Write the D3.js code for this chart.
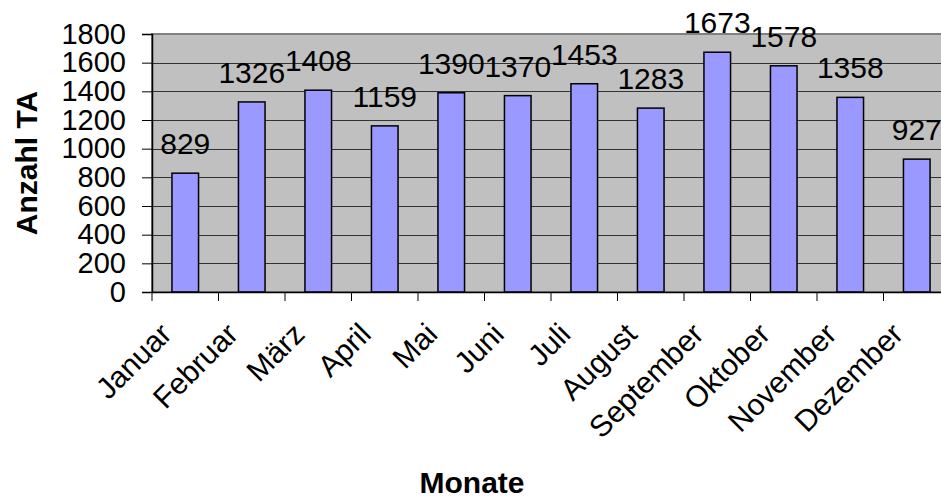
<!DOCTYPE html>
<html>
<head>
<meta charset="utf-8">
<script src="https://cdn.jsdelivr.net/npm/d3@7"></script>
<style>
  body { margin: 0; background: #fff; }
  text { font-family: "Liberation Sans", Arial, sans-serif; fill: #000; }
</style>
</head>
<body>
<div id="root"></div>
<script>
var months = ["Januar", "Februar", "März", "April", "Mai", "Juni", "Juli",
    "August", "September", "Oktober", "November", "Dezember"];
var counts = [829, 1326, 1408, 1159, 1390, 1370, 1453, 1283, 1673, 1578, 1358, 927];
var yTicks = [0, 200, 400, 600, 800, 1000, 1200, 1400, 1600, 1800];

var svg = d3.select("#root")
    .append("svg")
    .attr("width", 941)
    .attr("height", 503);

var plotLeft = 152, plotRight = 950, plotTop = 34, plotBottom = 292;

var x = d3.scaleBand()
    .domain(months)
    .range([plotLeft, plotRight])
    .paddingInner(0.6)
    .paddingOuter(0.3);

var y = d3.scaleLinear()
    .domain([0, 1800])
    .range([plotBottom, plotTop]);

function draw() {
    // plot area
    svg.append("rect")
        .attr("x", plotLeft)
        .attr("y", plotTop)
        .attr("width", plotRight - plotLeft)
        .attr("height", plotBottom - plotTop)
        .attr("fill", "#c0c0c0")
        .attr("stroke", "#808080")
        .attr("stroke-width", 2);

    // grid
    svg.selectAll("line.grid")
        .data(yTicks.slice(1, -1))
        .enter()
        .append("line")
        .attr("class", "grid")
        .attr("x1", plotLeft)
        .attr("x2", plotRight)
        .attr("y1", function (d) { return Math.round(y(d)) + 0.5; })
        .attr("y2", function (d) { return Math.round(y(d)) + 0.5; })
        .attr("stroke", "#333")
        .attr("stroke-width", 1);

    // bars
    svg.selectAll("rect.bar")
        .data(counts)
        .enter()
        .append("rect")
        .attr("class", "bar")
        .attr("x", function (d, i) { return x(months[i]); })
        .attr("y", function (d) { return y(d); })
        .attr("width", x.bandwidth())
        .attr("height", function (d) { return plotBottom - y(d); })
        .attr("fill", "#9999ff")
        .attr("stroke", "#000")
        .attr("stroke-width", 1.5);

    // value labels
    svg.selectAll("text.val")
        .data(counts)
        .enter()
        .append("text")
        .attr("class", "val")
        .text(function (d) { return d; })
        .attr("x", function (d, i) { return x(months[i]) + x.bandwidth() / 2; })
        .attr("y", function (d) { return y(d) - 19; })
        .attr("text-anchor", "middle")
        .attr("font-size", 30);

    // y axis
    var yAxis = svg.append("g")
        .attr("transform", "translate(" + plotLeft + ",0)")
        .call(d3.axisLeft(y).tickValues(yTicks).tickFormat(d3.format("d"))
            .tickSize(10).tickPadding(16));
    yAxis.select(".domain").attr("stroke", "#000").attr("stroke-width", 1.5);
    yAxis.selectAll(".tick line").attr("stroke", "#000");
    yAxis.selectAll(".tick text")
        .attr("font-size", 29)
        .attr("font-family", "Liberation Sans, Arial, sans-serif");

    // x axis
    var xAxis = svg.append("g")
        .attr("transform", "translate(0," + plotBottom + ")")
        .call(d3.axisBottom(x).tickSize(0).tickFormat(""));
    xAxis.select(".domain").attr("stroke", "#000").attr("stroke-width", 1.5);

    // category ticks sit on band boundaries
    svg.selectAll("line.xtick")
        .data(months)
        .enter()
        .append("line")
        .attr("class", "xtick")
        .attr("x1", function (d) { return x(d) - x.step() * 0.3; })
        .attr("x2", function (d) { return x(d) - x.step() * 0.3; })
        .attr("y1", plotBottom)
        .attr("y2", plotBottom + 9)
        .attr("stroke", "#000");

    svg.selectAll("text.month")
        .data(months)
        .enter()
        .append("text")
        .attr("class", "month")
        .text(function (d) { return d; })
        .attr("text-anchor", "end")
        .attr("font-size", 30)
        .attr("transform", function (d) {
            var cx = x(d) + x.bandwidth() / 2 - 12;
            return "translate(" + cx + "," + (plotBottom + 44) + ") rotate(-45)";
        });

    // axis titles
    svg.append("text")
        .text("Anzahl TA")
        .attr("text-anchor", "middle")
        .attr("font-size", 30)
        .attr("font-weight", "bold")
        .attr("transform", "translate(37,163) rotate(-90)");

    svg.append("text")
        .text("Monate")
        .attr("text-anchor", "middle")
        .attr("font-size", 30)
        .attr("font-weight", "bold")
        .attr("x", 472)
        .attr("y", 493);
}

draw();
</script>
</body>
</html>
